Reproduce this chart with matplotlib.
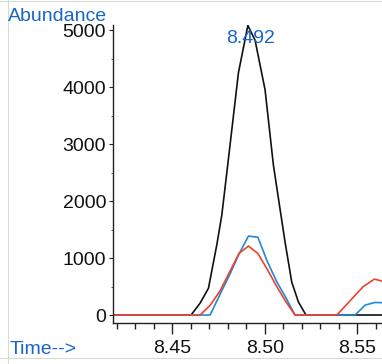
import matplotlib
matplotlib.use("Agg")
import matplotlib.pyplot as plt
from matplotlib.lines import Line2D
from matplotlib.ticker import MultipleLocator, FixedLocator

plt.rcParams['font.family'] = ['Liberation Sans', 'DejaVu Sans']

# Extracted ion traces (retention time in minutes, abundance)
black_t = [8.4179, 8.4601, 8.4650, 8.4695, 8.4740, 8.4767, 8.4799, 8.4857,
           8.4908, 8.4947, 8.5001, 8.5046, 8.5073, 8.5109, 8.5145, 8.5181,
           8.5222, 8.5640]
black_v = [0, 0, 210, 470, 1230, 1750, 2630, 4250,
           5080, 4820, 3950, 2630, 2050, 1280, 580, 230,
           0, 0]

blue_t = [8.4179, 8.4704, 8.4757, 8.4810, 8.4860, 8.4911, 8.4962, 8.5013,
          8.5064, 8.5114, 8.5163, 8.5488, 8.5542, 8.5595, 8.5640]
blue_v = [0, 0, 360, 710, 1070, 1385, 1365, 940,
          585, 300, 0, 0, 175, 220, 215]

red_t = [8.4179, 8.4650, 8.4704, 8.4757, 8.4810, 8.4860, 8.4911, 8.4962,
         8.5013, 8.5064, 8.5114, 8.5163, 8.5389, 8.5532, 8.5592, 8.5640]
red_v = [0, 0, 170, 420, 760, 1080, 1210, 1080,
         800, 500, 230, 0, 0, 500, 630, 590]

peak_rt = 8.492
y_ticks = [0, 1000, 2000, 3000, 4000, 5000]
x_ticks = [8.45, 8.50, 8.55]

W, H = 382, 364
fig = plt.figure(figsize=(W / 100, H / 100), dpi=100)
ax = fig.add_axes([113 / W, 41 / H, (W - 113) / W, (323 - 25) / H])

ax.plot(black_t, black_v, color='#111111', lw=1.2)
ax.plot(blue_t, blue_v, color='#2288d8', lw=1.2)
ax.plot(red_t, red_v, color='#f0402c', lw=1.2)

ax.set_xlim(8.4179, 8.5633)
ax.set_ylim(-140, 5088)

for side in ('top', 'right'):
    ax.spines[side].set_visible(False)
for side in ('left', 'bottom'):
    ax.spines[side].set_color('#222222')
    ax.spines[side].set_linewidth(1.0)

ax.xaxis.set_major_locator(FixedLocator(x_ticks))
ax.xaxis.set_minor_locator(MultipleLocator(0.01))
ax.set_xticklabels([f"{t:.2f}" for t in x_ticks])
ax.yaxis.set_major_locator(FixedLocator(y_ticks))
ax.yaxis.set_minor_locator(MultipleLocator(500))

ax.tick_params(axis='x', which='major', direction='out', length=8, width=1.0,
               pad=4, labelsize=14, colors='#222222', labelcolor='#111111')
ax.tick_params(axis='x', which='minor', direction='out', length=4.3, width=1.0,
               colors='#222222')
ax.tick_params(axis='y', which='major', direction='out', length=3, width=0.8,
               pad=2, labelsize=14, colors='#222222', labelcolor='#111111')
ax.tick_params(axis='y', which='minor', direction='out', length=1.5, width=0.6,
               colors='#444444')

ax.text(peak_rt, 4770, f"{peak_rt:.3f}", ha='center', va='baseline',
        fontsize=14, color='#1a66c8')

fig.text(8 / W, (H - 21) / H, "Abundance", ha='left', va='baseline',
         fontsize=14, color='#1a66c8')
fig.text(10 / W, (H - 354) / H, "Time-->", ha='left', va='baseline',
         fontsize=14, color='#1a66c8')

# faint page border
border = '#d3dbd3'
fig.add_artist(Line2D([8 / W, 8 / W], [0, 1], transform=fig.transFigure,
                      color=border, lw=0.8))
fig.add_artist(Line2D([0, 1], [(H - 358) / H] * 2, transform=fig.transFigure,
                      color=border, lw=0.8))
fig.add_artist(Line2D([0, 1], [(H - 1) / H] * 2, transform=fig.transFigure,
                      color=border, lw=0.8))

fig.savefig("out.png", dpi=100)
